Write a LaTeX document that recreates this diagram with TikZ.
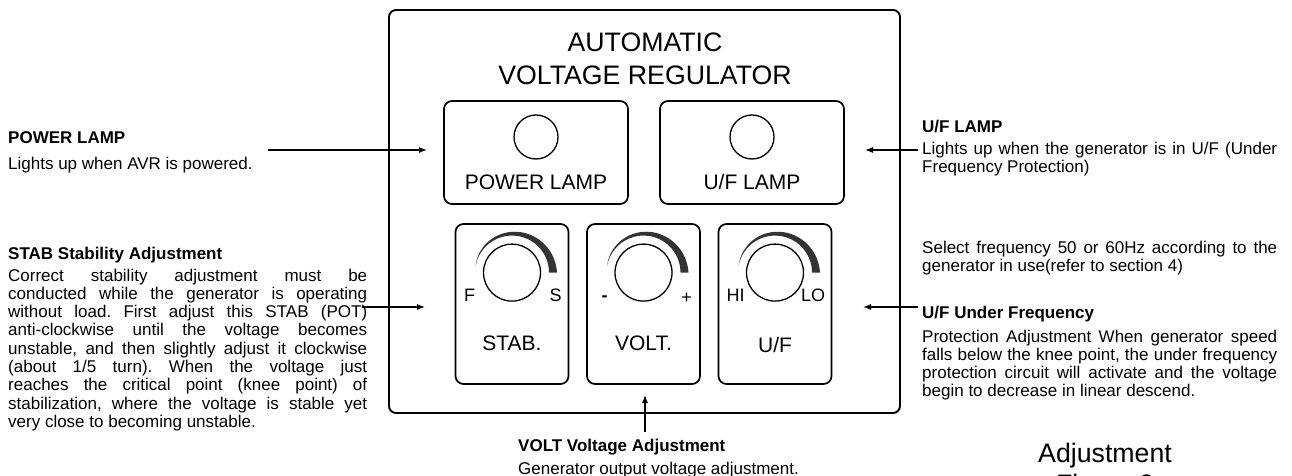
\documentclass[tikz,border=0pt]{standalone}
\usepackage{fontspec}
\setmainfont{Liberation Sans}
\usetikzlibrary{arrows.meta}
\hyphenpenalty=10000
\exhyphenpenalty=10000
\frenchspacing
\begin{document}
\begin{tikzpicture}[x=1pt,y=-1pt,
  panel/.style={draw,line width=1.9pt,rounded corners=7pt,inner sep=0pt},
  lampbox/.style={draw,line width=1.7pt,rounded corners=8pt,inner sep=0pt},
  lamp/.style={draw,circle,line width=1.3pt,minimum size=44pt,inner sep=0pt},
  knob/.style={draw,circle,line width=1.3pt,minimum size=57pt,inner sep=0pt},
  arcfill/.style={fill=black!80},
  arr/.style={line width=1.1pt,-{Latex[length=8pt,width=6pt]}},
  title/.style={inner sep=0pt,anchor=base,font=\fontsize{26.7}{31}\selectfont},
  plabel/.style={inner sep=0pt,anchor=base,font=\fontsize{21}{24}\selectfont},
  klabel/.style={inner sep=0pt,anchor=base,font=\fontsize{18}{20}\selectfont},
  head/.style={inner sep=0pt,anchor=base west,font=\fontsize{17}{18.3}\selectfont\bfseries},
  line/.style={inner sep=0pt,anchor=base west,font=\fontsize{17}{18.3}\selectfont},
  body/.style={inner sep=0pt,anchor=base west,align=justify,font=\fontsize{17}{18.3}\selectfont},
]
\useasboundingbox (0,0) rectangle (1292,476);
\clip (0,0) rectangle (1292,476);

% main panel
\node[panel,minimum width=511pt,minimum height=403pt] (panel) at (644.5,211.5) {};
\node[title] (t1) at (645,52) {AUTOMATIC};
\node[title] (t2) at (645,84.5) {VOLTAGE REGULATOR};

% lamps
\node[lampbox,minimum width=184pt,minimum height=103pt] (pwrbox) at (536,152.5) {};
\node[lampbox,minimum width=184pt,minimum height=103pt] (ufbox) at (752,152.5) {};
\node[lamp] (pwrlamp) at (536,137) {};
\node[lamp] (uflamp) at (752,137) {};
\node[plabel] (pwrlbl) at (536,189) {POWER LAMP};
\node[plabel] (uflbl) at (752,189) {U/F LAMP};

% knob boxes
\node[lampbox,minimum width=113pt,minimum height=160pt] (stabbox) at (512,304) {};
\node[lampbox,minimum width=113pt,minimum height=160pt] (voltbox) at (643.5,304) {};
\node[lampbox,minimum width=113pt,minimum height=160pt] (ufkbox) at (775,304) {};

\foreach \cx/\nm in {512/stab,643.5/volt,775/uf}{
  \node[knob] (knob\nm) at (\cx,272.6) {};
  \fill[arcfill] plot[domain=0:170,samples=60] ({\cx+37*cos(\x)},{272.6-37*sin(\x)})
    -- plot[domain=170:0,samples=60] ({\cx+(45-8*\x/170)*cos(\x)},{272.6-(45-8*\x/170)*sin(\x)}) -- cycle;
}

\node[klabel] (kF) at (469.5,301) {F};
\node[klabel] (kS) at (555.5,301) {S};
\node[klabel] (kminus) at (604.5,301) {\textbf{-}};
\node[klabel] (kplus) at (686.5,303) {+};
\node[klabel] (kHI) at (735.5,301) {HI};
\node[klabel] (kLO) at (813,301) {LO};

\node[plabel] (stablbl) at (512,350) {STAB.};
\node[plabel] (voltlbl) at (643.5,350) {VOLT.};
\node[plabel] (uflbl2) at (775,352) {U/F};

% left texts
\node[head] (pwrhead) at (8,143) {POWER LAMP};
\node[line] (pwrtext) at (8,169) {Lights up when AVR is powered.};
\node[head] (stabhead) at (8,259) {STAB Stability Adjustment};
\node[body,text width=359pt] (stabtext) at (8,281) {Correct stability adjustment must be\linebreak
conducted while the generator is operating\linebreak
without load. First adjust this STAB (POT)\linebreak
anti-clockwise until the voltage becomes\linebreak
unstable, and then slightly adjust it clockwise\linebreak
(about 1/5 turn). When the voltage just\linebreak
reaches the critical point (knee point) of\linebreak
stabilization, where the voltage is stable yet\linebreak
very close to becoming unstable.};

% right texts
\node[head] (ufhead) at (922,132) {U/F LAMP};
\node[body,text width=355pt] (uftext) at (922,154) {Lights up when the generator is in U/F (Under\linebreak
Frequency Protection)};
\node[body,text width=355pt] (seltext) at (922,253) {Select frequency 50 or 60Hz according to the\linebreak
generator in use(refer to section 4)};
\node[head] (uffhead) at (922,318) {U/F Under Frequency};
\node[body,text width=355pt] (ufftext) at (922,342) {Protection Adjustment When generator speed\linebreak
falls below the knee point, the under frequency\linebreak
protection circuit will activate and the voltage\linebreak
begin to decrease in linear descend.};

% bottom texts
\node[head] (volthead) at (518,451) {VOLT Voltage Adjustment};
\node[line] (volttext) at (518,474) {Generator output voltage adjustment.};
\node[title] (cap1) at (1105,462) {Adjustment};
\node[title] (cap2) at (1105,493) {Figure 2};

% arrows
\coordinate (pwrtail) at (268,150);
\coordinate (pwrtip) at (427,150);
\coordinate (stabtail) at (362,307);
\coordinate (stabtip) at (425,307);
\coordinate (uftail) at (918,150);
\coordinate (uftip) at (865,150);
\coordinate (ufftail) at (918,307);
\coordinate (ufftip) at (863,307);
\coordinate (volttail) at (645,432);
\coordinate (volttip) at (645,395);
\draw[arr] (pwrtail) -- (pwrtip);
\draw[arr] (stabtail) -- (stabtip);
\draw[arr] (uftail) -- (uftip);
\draw[arr] (ufftail) -- (ufftip);
\draw[arr] (volttail) -- (volttip);
\end{tikzpicture}
\end{document}
